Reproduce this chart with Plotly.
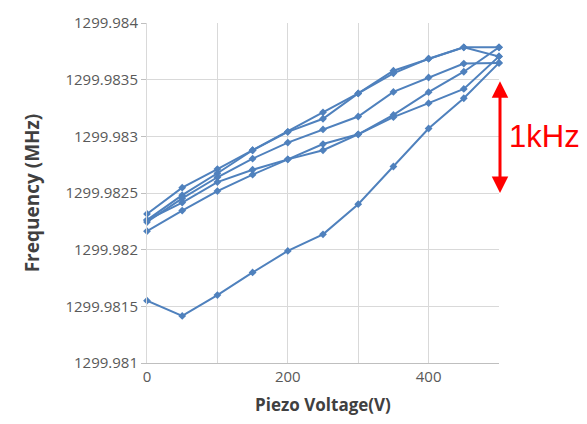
import plotly.graph_objects as go

# Piezo voltage sweep points (V)
voltage = [0, 50, 100, 150, 200, 250, 300, 350, 400, 450, 500]

# Measured cavity frequency (MHz) for each sweep
sweep_1 = [1299.982315, 1299.982547, 1299.982711, 1299.982877, 1299.983040, 1299.983212,
           1299.983379, 1299.983579, 1299.983685, 1299.983785, 1299.983705]
sweep_2 = [1299.982261, 1299.982481, 1299.982674, 1299.982877, 1299.983040, 1299.983155,
           1299.983379, 1299.983556, 1299.983685, 1299.983785, 1299.983785]
sweep_3 = [1299.982244, 1299.982453, 1299.982639, 1299.982803, 1299.982945, 1299.983061,
           1299.983175, 1299.983392, 1299.983519, 1299.983642, 1299.983648]
sweep_4 = [1299.982261, 1299.982416, 1299.982596, 1299.982705, 1299.982797, 1299.982932,
           1299.983018, 1299.983189, 1299.983390, 1299.983570, 1299.983785]
sweep_5 = [1299.982163, 1299.982345, 1299.982517, 1299.982662, 1299.982797, 1299.982877,
           1299.983018, 1299.983169, 1299.983293, 1299.983418, 1299.983705]
sweep_6 = [1299.981550, 1299.981415, 1299.981599, 1299.981799, 1299.981989, 1299.982135,
           1299.982401, 1299.982734, 1299.983069, 1299.983336, 1299.983648]

sweeps = [sweep_1, sweep_2, sweep_3, sweep_4, sweep_5, sweep_6]

x_tick_vals = [0, 100, 200, 300, 400, 500]
x_tick_text = ["0", "", "200", "", "400", ""]
y_tick_vals = [1299.981, 1299.9815, 1299.982, 1299.9825, 1299.983, 1299.9835, 1299.984]
y_tick_text = ["1299.981", "1299.9815", "1299.982", "1299.9825", "1299.983", "1299.9835", "1299.984"]

line_blue = "#4f81bd"

fig = go.Figure()
for s in sweeps:
    fig.add_trace(go.Scatter(
        x=voltage, y=s, mode="lines+markers",
        line=dict(color=line_blue, width=2),
        marker=dict(symbol="diamond", size=6, color=line_blue),
        showlegend=False, cliponaxis=False,
    ))

# 1 kHz scale bar
fig.add_annotation(
    x=500, y=1299.9825, ax=500, ay=1299.9835,
    xref="x", yref="y", axref="x", ayref="y",
    text="", showarrow=True, arrowhead=2, arrowside="end+start",
    arrowsize=1.1, arrowwidth=3, arrowcolor="#ff0000",
    xshift=1, standoff=0, startstandoff=0,
)
fig.add_annotation(
    x=1.022, y=1299.983, xref="paper", yref="y",
    text="1kHz", showarrow=False, xanchor="left", yanchor="middle",
    font=dict(family="Liberation Sans, Arial, sans-serif", size=31, color="#ff0000"),
)

fig.update_layout(
    width=587, height=424,
    margin=dict(l=147, r=88, t=15, b=60),
    paper_bgcolor="white", plot_bgcolor="white",
    font=dict(family="Open Sans, Liberation Sans, sans-serif", color="#595959"),
    xaxis=dict(
        range=[0, 500], tickvals=x_tick_vals, ticktext=x_tick_text,
        showgrid=True, gridcolor="#d9d9d9", gridwidth=1,
        showline=True, linecolor="#bfbfbf", linewidth=1,
        zeroline=False, ticks="", tickfont=dict(size=15, color="#595959"),
        title=dict(text="<b>Piezo Voltage(V)</b>", standoff=14,
                   font=dict(size=17, color="#404040")),
    ),
    yaxis=dict(
        range=[1299.981, 1299.984], tickvals=y_tick_vals, ticktext=y_tick_text,
        showgrid=True, gridcolor="#d9d9d9", gridwidth=1,
        showline=True, linecolor="#d9d9d9", linewidth=1,
        zeroline=False, ticks="outside", ticklen=5, tickcolor="#bfbfbf",
        tickfont=dict(size=15, color="#595959"),
        title=dict(text="<b>Frequency (MHz)</b>", standoff=20,
                   font=dict(size=19, color="#404040")),
    ),
)

fig.write_html("out.html")
